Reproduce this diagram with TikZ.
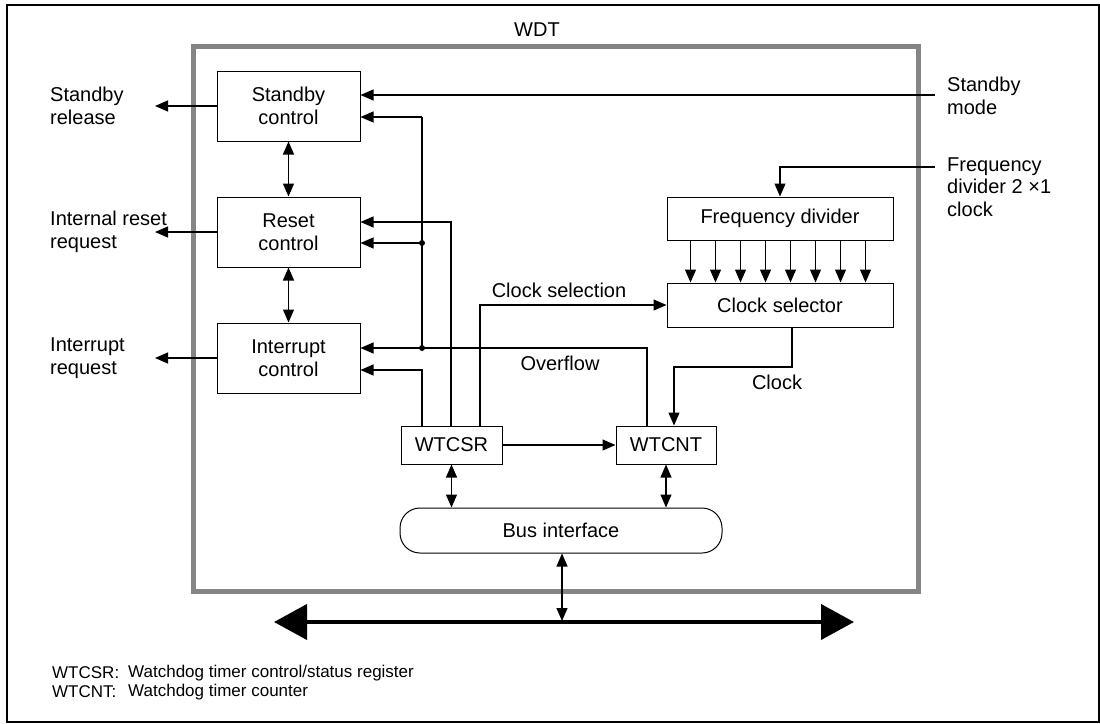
\documentclass[tikz,border=0pt]{standalone}
\usepackage{fontspec}
\setmainfont{Liberation Sans}
\usetikzlibrary{arrows.meta,calc}
\definecolor{wdtgray}{RGB}{133,133,133}
\begin{document}
\begin{tikzpicture}[x=1pt,y=-1pt,
  txt/.style={font=\fontsize{20}{22.5}\selectfont, align=center, inner sep=0pt},
  lbl/.style={font=\fontsize{20}{22.5}\selectfont, align=left, inner sep=0pt},
  note/.style={font=\fontsize{17}{19}\selectfont, inner sep=0pt, anchor=west},
  box/.style={draw, line width=1pt, txt},
  conn/.style={line width=1.2pt},
  arr/.style={conn, -{Triangle[length=13pt,width=11pt]}},
  darr/.style={conn, {Triangle[length=13pt,width=11pt]}-{Triangle[length=13pt,width=11pt]}},
  bigarr/.style={line width=4pt, {Triangle[length=33pt,width=35pt]}-{Triangle[length=33pt,width=35pt]}}
]
\useasboundingbox (0,0) rectangle (1100,723);
% outer frame
\draw[line width=1.7pt] (7,5) rectangle (1099,722);
% WDT box
\draw[wdtgray, line width=5pt] (193,46) rectangle (918,591);
\node[txt] (wdt) at (537,30) {WDT};

% blocks
\node[box, minimum width=143pt, minimum height=70pt] (sb) at (288.5,106) {Standby\\control};
\node[box, minimum width=143pt, minimum height=70pt] (rs) at (288.5,232) {Reset\\control};
\node[box, minimum width=143pt, minimum height=70pt] (ir) at (288.5,358) {Interrupt\\control};
\node[box, minimum width=226pt, minimum height=43pt] (fd) at (780,218.5) {Frequency divider};
\node[box, minimum width=226pt, minimum height=44pt] (cs) at (780,305) {Clock selector};
\node[box, minimum width=101pt, minimum height=38pt] (wcsr) at (451.5,445) {WTCSR};
\node[box, minimum width=100pt, minimum height=38pt] (wcnt) at (666,445) {WTCNT};
\node[box, minimum width=322pt, minimum height=45pt, rounded corners=20pt] (bus) at (561,530.5) {Bus interface};

% outside labels
\node[lbl, anchor=west] (l1) at (50,106) {Standby\\release};
\node[lbl, anchor=west] (l2) at (50,232) {Internal reset\\request};
\node[lbl, anchor=west] (l3) at (50,358) {Interrupt\\request};
\node[lbl, anchor=west] (l4) at (947,96) {Standby\\mode};
\node[lbl, anchor=west] (l5) at (947,187) {Frequency\\divider 2 ×1\\clock};

% output arrows
\coordinate (ox) at (155,0);
\draw[arr] (sb.west) -- (sb.west -| ox);
\draw[arr] (rs.west) -- (rs.west -| ox);
\draw[arr] (ir.west) -- (ir.west -| ox);

% vertical bidirectional between control blocks
\draw[darr] (sb.south) -- (rs.north);
\draw[darr] (rs.south) -- (ir.north);

% standby mode input
\coordinate (smin) at (935,95);
\draw[arr] (smin) -- (sb.east |- smin);

% frequency divider input
\coordinate (fdin) at (935,167);
\coordinate (fdc) at (780,167);
\draw[arr] (fdin) -- (fdc) -- (fd.north);

% eight divider outputs
\foreach \i in {0,...,7}{
  \draw[arr] ([xshift={24+25*\i}]fd.south west) -- ([xshift={24+25*\i}]cs.north west);
}

% overflow path with branches
\coordinate (ja) at (422,117);
\coordinate (jb) at (422,243);
\coordinate (jc) at (422,348);
\coordinate (ov) at (647,348);
\draw[conn] (wcnt.north -| ov) -- (ov) -- (jc);
\draw[arr] (jc) -- (ir.east |- jc);
\draw[conn] (jc) -- (ja);
\draw[arr] (ja) -- (sb.east |- ja);
\draw[arr] (jb) -- (rs.east |- jb);
\fill (jb) circle (3pt);
\fill (jc) circle (3pt);
\node[txt] (lov) at (560,363) {Overflow};

% WTCSR outputs
\coordinate (ib) at (422,370);
\draw[arr] (wcsr.north -| ib) -- (ib) -- (ir.east |- ib);
\coordinate (ra) at (451,222);
\draw[arr] (wcsr.north -| ra) -- (ra) -- (rs.east |- ra);
\coordinate (csl) at (480,305);
\draw[arr] (wcsr.north -| csl) -- (csl) -- (cs.west);
\node[txt] (lcs) at (559,290) {Clock selection};

% clock
\coordinate (ck1) at (792,367);
\coordinate (ck2) at (674,367);
\draw[arr] (cs.south -| ck1) -- (ck1) -- (ck2) -- (wcnt.north -| ck2);
\node[txt] (lck) at (777,382) {Clock};

% WTCSR -> WTCNT
\draw[arr] (wcsr.east) -- (wcnt.west);

% bus connections
\draw[darr] (wcsr.south) -- (bus.north -| wcsr.south);
\draw[darr] (wcnt.south) -- (bus.north -| wcnt.south);
\coordinate (bb) at (562,621);
\draw[darr] (bus.south -| bb) -- (bb);

% big bus
\coordinate (bl) at (274,622);
\coordinate (br) at (854,622);
\draw[bigarr] (bl) -- (br);

% notes
\node[note] (n1a) at (52,673) {WTCSR:};
\node[note] (n1b) at (128,673) {Watchdog timer control/status register};
\node[note] (n2a) at (52,692) {WTCNT:};
\node[note] (n2b) at (128,692) {Watchdog timer counter};
\end{tikzpicture}
\end{document}
